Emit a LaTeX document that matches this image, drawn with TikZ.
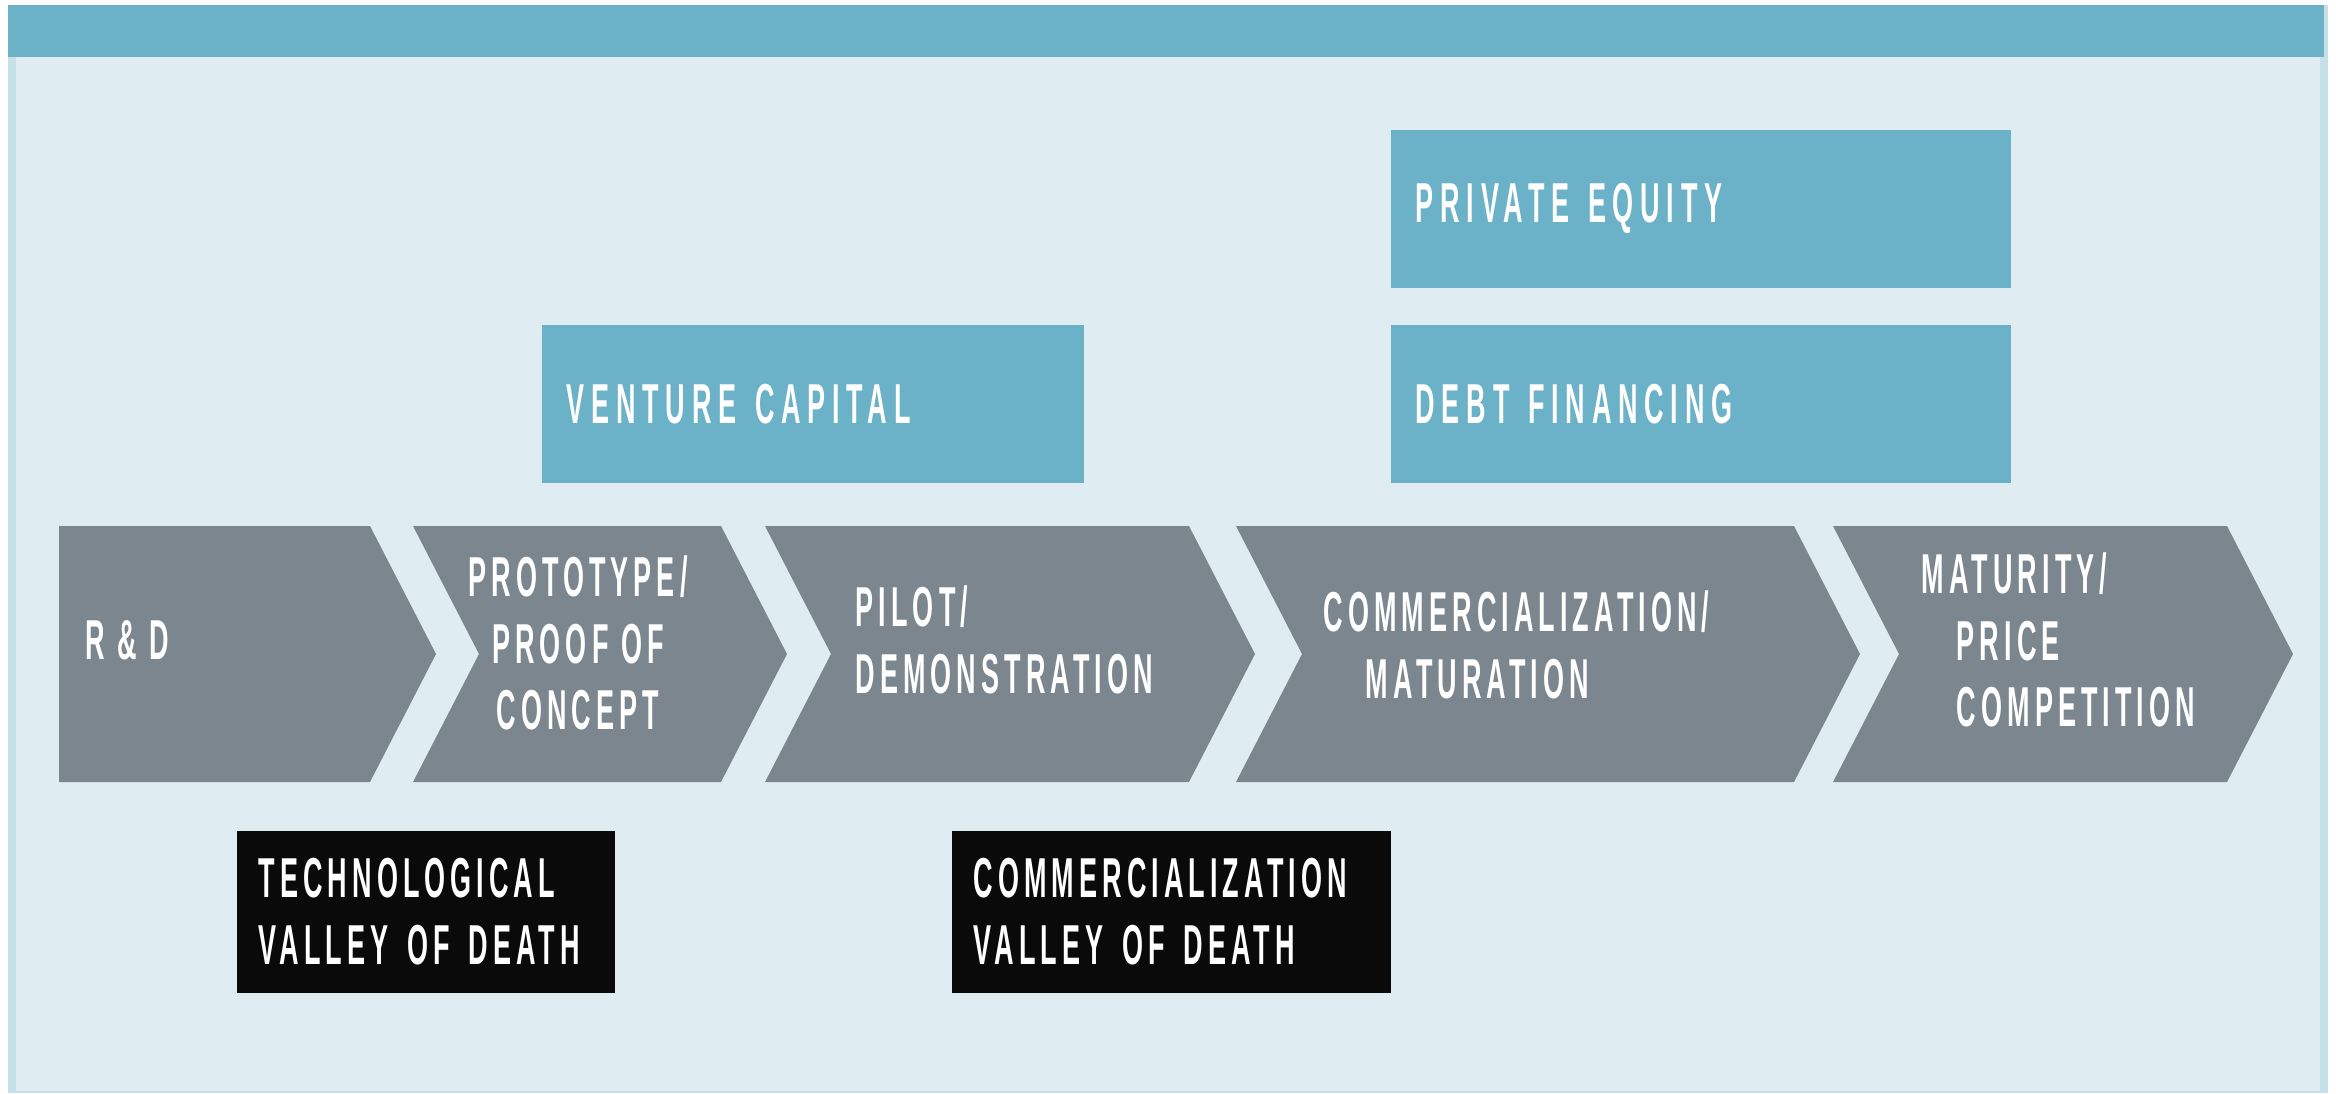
\documentclass[tikz,border=0pt]{standalone}
\usepackage{fontspec}
\usepackage{xcolor}
\newfontfamily\stagefont[FakeStretch=0.48,LetterSpace=9]{Liberation Sans}
\newfontfamily\fundfont[FakeStretch=0.48,LetterSpace=12]{Liberation Sans}
\definecolor{panelbg}{HTML}{DFECF1}
\definecolor{fundblue}{HTML}{6BB1C7}
\definecolor{stagegray}{HTML}{7B868E}
\definecolor{edgeblue}{HTML}{C5E0E6}
\definecolor{valleyblack}{HTML}{0A0A0A}

\begin{document}
\begin{tikzpicture}[x=0.01cm,y=-0.01cm,
  stage/.style={anchor=west,inner sep=0pt,text=white,align=left,
    font=\stagefont\bfseries\fontsize{16}{19}\selectfont},
  fund/.style={fill=fundblue,text=white,anchor=north west,align=left,
    minimum height=1.58cm,inner xsep=0.25cm,inner ysep=0pt,
    font=\fundfont\bfseries\fontsize{16}{19}\selectfont},
  valley/.style={fill=valleyblack,text=white,anchor=north west,align=left,
    minimum height=1.62cm,inner xsep=0.22cm,inner ysep=0pt,
    font=\stagefont\bfseries\fontsize{16}{19}\selectfont}]

\useasboundingbox (0,0) rectangle (2336,1093);
\fill[white] (0,0) rectangle (2336,1093);

%panel and top band
\fill[edgeblue] (8,5) rectangle (2328,1093);
\fill[panelbg] (16,5) rectangle (2320,1091);
\fill[fundblue] (8,5) rectangle (2324,57);

%stages as chevrons
\fill[stagegray] (59,526) -- (370,526) -- (436,654) -- (370,782) -- (59,782) -- cycle;
\fill[stagegray] (413,526) -- (721,526) -- (787,654) -- (721,782) -- (413,782) -- (479,654) -- cycle;
\fill[stagegray] (765,526) -- (1189,526) -- (1255,654) -- (1189,782) -- (765,782) -- (831,654) -- cycle;
\fill[stagegray] (1236,526) -- (1794,526) -- (1860,654) -- (1794,782) -- (1236,782) -- (1302,654) -- cycle;
\fill[stagegray] (1833,526) -- (2227,526) -- (2293,654) -- (2227,782) -- (1833,782) -- (1899,654) -- cycle;

\node[stage] (rd) at (85,640) {R \& D};
\node[stage,align=center,anchor=center] (proto) at (578,643) {PROTOTYPE/\\PROOF OF\\CONCEPT};
\node[stage] (pilot) at (855,640) {PILOT/\\DEMONSTRATION};
\node[stage] (comm) at (1323,645) {COMMERCIALIZATION/\\\hspace*{12pt}MATURATION};
\node[stage] (mature) at (1921,640) {MATURITY/\\\hspace*{10pt}PRICE\\\hspace*{10pt}COMPETITION};

%funding sources
\node[fund,text width=4.92cm] (vc) at (541,324) {VENTURE CAPITAL};
\node[fund,text width=5.70cm] (pe) at (1390,129) {PRIVATE EQUITY};
\node[fund,text width=5.70cm] (debt) at (1390,324) {DEBT FINANCING};

%valleys of death
\node[valley,text width=3.34cm] (techvd) at (236,830) {TECHNOLOGICAL\\VALLEY OF DEATH};
\node[valley,text width=3.95cm] (commvd) at (951,830) {COMMERCIALIZATION\\VALLEY OF DEATH};

\end{tikzpicture}
\end{document}
